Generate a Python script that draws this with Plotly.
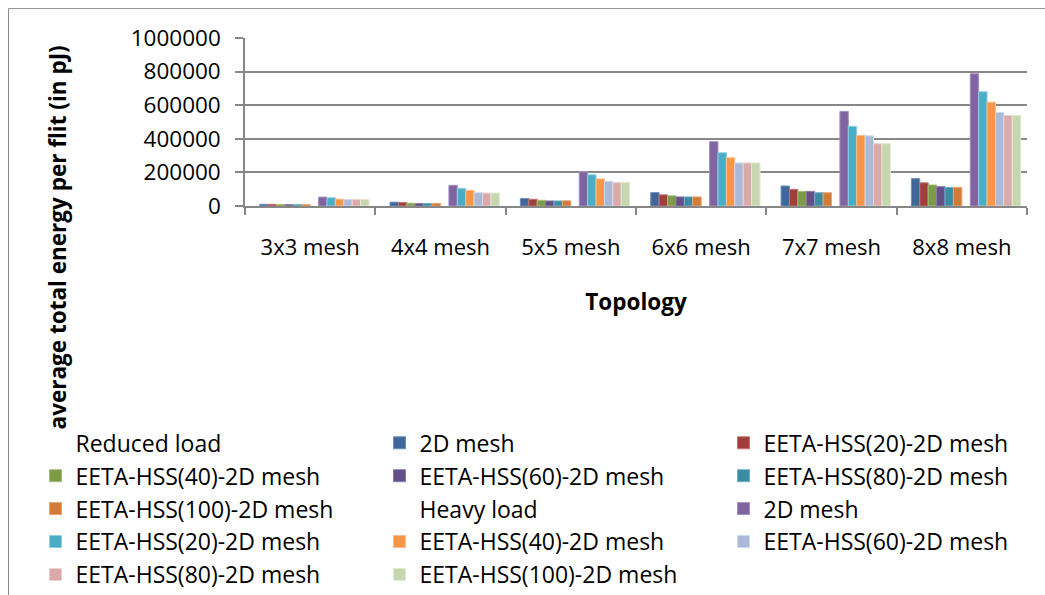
import plotly.graph_objects as go

# Topologies on the category axis
topologies = ["3x3 mesh", "4x4 mesh", "5x5 mesh", "6x6 mesh", "7x7 mesh", "8x8 mesh"]

# Average total energy per flit (pJ) under reduced load
reduced_2d = [10000, 23000, 45000, 79500, 119000, 163000]
reduced_hss20 = [10000, 21000, 40000, 66500, 99000, 138000]
reduced_hss40 = [8500, 16500, 34000, 60500, 87000, 125000]
reduced_hss60 = [8000, 14500, 30000, 54000, 87000, 115000]
reduced_hss80 = [8000, 14500, 30000, 54000, 79000, 111000]
reduced_hss100 = [8000, 15500, 31000, 54000, 79000, 111000]

# Average total energy per flit (pJ) under heavy load
heavy_2d = [53000, 123000, 204000, 383000, 563000, 787000]
heavy_hss20 = [49000, 105000, 186000, 317000, 474000, 680000]
heavy_hss40 = [41000, 93000, 161000, 287000, 420000, 618000]
heavy_hss60 = [38000, 79000, 147000, 256000, 418000, 557000]
heavy_hss80 = [38000, 77000, 139000, 256000, 371000, 539000]
heavy_hss100 = [38500, 77000, 139000, 256000, 371000, 539000]

blank = [None] * len(topologies)

series_names = [
    "Reduced load", "2D mesh", "EETA-HSS(20)-2D mesh", "EETA-HSS(40)-2D mesh",
    "EETA-HSS(60)-2D mesh", "EETA-HSS(80)-2D mesh", "EETA-HSS(100)-2D mesh",
    "Heavy load", "2D mesh", "EETA-HSS(20)-2D mesh", "EETA-HSS(40)-2D mesh",
    "EETA-HSS(60)-2D mesh", "EETA-HSS(80)-2D mesh", "EETA-HSS(100)-2D mesh",
]
series_values = [
    blank, reduced_2d, reduced_hss20, reduced_hss40, reduced_hss60, reduced_hss80, reduced_hss100,
    blank, heavy_2d, heavy_hss20, heavy_hss40, heavy_hss60, heavy_hss80, heavy_hss100,
]
series_colors = [
    "rgba(0,0,0,0)", "#406799", "#9f3e3b", "#7d9a46", "#654f87", "#3b8ca3", "#d07b38",
    "rgba(0,0,0,0)", "#8064a2", "#4bacc6", "#f79646", "#aab9d7", "#d9aaa9", "#c6d6ae",
]
edge_colors = [
    "rgba(0,0,0,0)", "#6f8fbd", "#c57371", "#a3bd74", "#8c79ad", "#6fb2c7", "#eba36c",
    "rgba(0,0,0,0)", "#a690c2", "#8dd0e2", "#fbbd8d", "#cfd9ec", "#ecd0cf", "#e0ebd0",
]

W, H = 1045, 595
ML, MR, MT, MB = 245, 18, 38, 388.5
PW, PH = W - ML - MR, H - MT - MB

AXIS_FONT = "Open Sans, Liberation Sans, sans-serif"
GRID = "#878787"

# legend laid out as three columns (one legend group per column)
COL_ENTRY = [299, 299, 260]

fig = go.Figure()
for i, (name, vals, col, edge) in enumerate(zip(series_names, series_values, series_colors, edge_colors)):
    fig.add_trace(go.Bar(
        x=topologies,
        y=vals,
        name=name,
        legendgroup="col%d" % (i % 3),
        legendwidth=COL_ENTRY[i % 3],
        marker=dict(color=col, line=dict(color=edge, width=1 if i % 7 else 0)),
        hovertemplate=name + ": %{y}<extra></extra>",
    ))

fig.update_layout(
    width=W, height=H,
    margin=dict(l=ML, r=MR, t=MT, b=MB, autoexpand=False),
    paper_bgcolor="white", plot_bgcolor="white",
    barmode="group", bargap=1.5 / 15.5, bargroupgap=0,
    font=dict(family=AXIS_FONT, size=22.5, color="#000000"),
    showlegend=True,
    legend=dict(
        orientation="h",
        xref="paper", yref="paper",
        x=(35.5 - ML) / PW, xanchor="left",
        y=(H - MB - 422.5) / PH, yanchor="top",
        entrywidthmode="pixels",
        font=dict(family=AXIS_FONT, size=23, color="#000000"),
        traceorder="grouped",
        bgcolor="rgba(0,0,0,0)",
    ),
    xaxis=dict(
        type="category",
        showline=True, linecolor=GRID, linewidth=1.5,
        ticks="outside", tickson="boundaries", ticklen=7, tickcolor=GRID, tickwidth=1.5,
        showgrid=False,
        tickfont=dict(size=22),
        ticklabelstandoff=21,
        title=dict(text="<b>Topology</b>", font=dict(size=22.5), standoff=34),
    ),
    yaxis=dict(
        range=[0, 1000000], dtick=200000, tickformat="d",
        showline=True, linecolor=GRID, linewidth=1.5,
        ticks="outside", ticklen=8, tickcolor=GRID, tickwidth=1.5,
        showgrid=True, gridcolor=GRID, gridwidth=1.5,
        zeroline=False,
        tickfont=dict(size=22.5),
        ticklabelstandoff=10,
    ),
    annotations=[dict(
        text="<b>average total energy per flit (in pJ)</b>",
        textangle=-90,
        xref="paper", yref="paper",
        x=(57 - ML) / PW, y=(H - MB - 238) / PH,
        xanchor="center", yanchor="middle",
        showarrow=False,
        font=dict(family=AXIS_FONT, size=22.5, color="#000000"),
    )],
    shapes=[dict(
        type="rect", xref="paper", yref="paper",
        x0=(8.5 - ML) / PW, x1=(W + 20 - ML) / PW,
        y0=(H - MB - (H + 20)) / PH, y1=(H - MB - 8.5) / PH,
        line=dict(color="#8c8c8c", width=1), fillcolor="rgba(0,0,0,0)",
        layer="below",
    )],
)

fig.write_html("out.html")
